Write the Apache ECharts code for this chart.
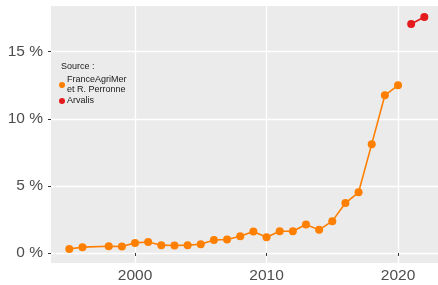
<!DOCTYPE html>
<html>
<head>
<meta charset="utf-8">
<script src="https://cdn.jsdelivr.net/npm/echarts@6/dist/echarts.min.js"></script>
<style>
  html, body { margin: 0; padding: 0; background: #fff; }
  #chart { width: 438px; height: 285px; }
</style>
</head>
<body>
<div id="chart"></div>
<script>
// years and shares (%)
var yearsFAM = [1995, 1996, 1998, 1999, 2000, 2001, 2002, 2003, 2004, 2005, 2006, 2007, 2008,
  2009, 2010, 2011, 2012, 2013, 2014, 2015, 2016, 2017, 2018, 2019, 2020];
var valuesFAM = [0.30, 0.43, 0.50, 0.48, 0.75, 0.82, 0.58, 0.55, 0.58, 0.65, 0.97, 1.0, 1.25,
  1.6, 1.17, 1.62, 1.62, 2.12, 1.72, 2.37, 3.72, 4.52, 8.11, 11.75, 12.5];
var yearsArv = [2021, 2022];
var valuesArv = [17.07, 17.59];
var xTicks = [2000, 2010, 2020];
var yTicks = [0, 5, 10, 15];

function pairs(xs, ys) {
  return xs.map(function (x, i) { return [x, ys[i]]; });
}

var myChart = echarts.init(document.getElementById("chart"));
var font = "Liberation Sans, Arial, sans-serif";

var option = {
  animation: false,
  textStyle: { fontFamily: font },
  grid: { left: 51, right: 0, top: 6, bottom: 22, backgroundColor: "#EBEBEB", show: true, borderWidth: 0 },
  graphic: [{
    type: "text", left: 61, top: 62,
    style: { text: "Source :", fontSize: 9, fill: "#1A1A1A", fontFamily: font }
  }],
  legend: {
    orient: "vertical",
    left: 54, top: 70,
    icon: "circle",
    itemWidth: 6, itemHeight: 6, itemGap: 1,
    textStyle: { fontSize: 9, color: "#1A1A1A", lineHeight: 10, padding: [0, 0, 0, -3] },
    data: ["FranceAgriMer\net R. Perronne", "Arvalis"]
  },
  xAxis: {
    type: "value",
    min: 1993.61, max: 2023.04,
    axisLine: { show: false },
    axisTick: { show: true, length: 3, customValues: xTicks, lineStyle: { color: "#333" } },
    axisLabel: {
      customValues: xTicks, color: "#4D4D4D", fontSize: 15.5, margin: 5,
      formatter: function (v) { return String(v); }
    },
    splitLine: { show: true, lineStyle: { color: "#fff", width: 1.3 } }
  },
  yAxis: {
    type: "value",
    min: -0.75, max: 18.41,
    axisLine: { show: false },
    axisTick: { show: true, length: 3, customValues: yTicks, lineStyle: { color: "#333" } },
    axisLabel: {
      customValues: yTicks, color: "#4D4D4D", fontSize: 15.5, margin: 8,
      formatter: function (v) { return v + " %"; }
    },
    splitLine: { show: true, lineStyle: { color: "#fff", width: 1.3 } }
  },
  series: [
    {
      name: "FranceAgriMer\net R. Perronne",
      type: "line",
      data: pairs(yearsFAM, valuesFAM),
      symbol: "circle", symbolSize: 8,
      itemStyle: { color: "#FF7F00" },
      lineStyle: { color: "#FF7F00", width: 1.6 }
    },
    {
      name: "Arvalis",
      type: "line",
      data: pairs(yearsArv, valuesArv),
      symbol: "circle", symbolSize: 8,
      itemStyle: { color: "#E41A1C" },
      lineStyle: { color: "#E41A1C", width: 1.6 }
    }
  ]
};
myChart.setOption(option);
</script>
</body>
</html>
